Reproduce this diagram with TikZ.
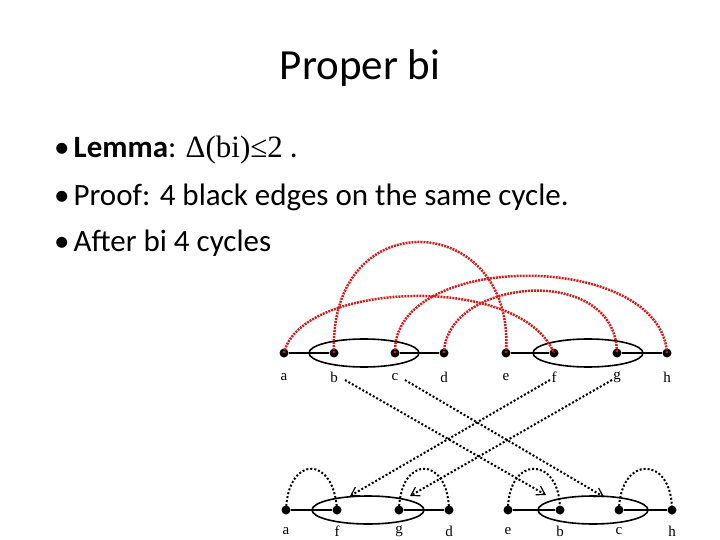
\documentclass[tikz,border=0pt]{standalone}
\usepackage{fontspec}
\setmainfont{Carlito}
\newfontfamily\serifm{Liberation Serif}
\usetikzlibrary{arrows.meta}
\begin{document}
\begin{tikzpicture}[x=1pt,y=-1pt,
 vtx/.style={circle,fill=black,inner sep=0pt,minimum size=9pt},
 lab/.style={font=\serifm\fontsize{15}{15}\selectfont},
 red/.style={draw={rgb,255:red,210;green,30;blue,30},line width=2.5pt,dash pattern=on 2pt off 1pt},
 dot/.style={draw=black,line width=2pt,dash pattern=on 2pt off 2pt},
 arr/.style={dot,-{Straight Barb[length=8pt,width=10pt,line width=1.2pt]}},
 ell/.style={draw=black,line width=1.6pt},
 bul/.style={anchor=west,inner sep=0pt,font=\fontsize{31}{36}\selectfont}]
\useasboundingbox (0,0) rectangle (720,540);
\node (title) at (360,68) {\fontsize{43}{48}\selectfont Proper bi};
\node[bul] (l1) at (54,150) {•\hspace{4pt}\textbf{Lemma}: {\serifm Δ(bi)≤2} .};
\node[bul] (l2) at (54,197) {•\hspace{4pt}Proof: 4 black edges on the same cycle.};
\node[bul] (l3) at (54,243) {•\hspace{4pt}After bi 4 cycles};
% top row
\draw[ell] (364,353) ellipse (55 and 14);
\draw[ell] (588,353) ellipse (55 and 14);
\foreach \n/\x in {a/284,b/334,c/395,d/444,e/506,f/554,g/617,h/667}{
 \node[vtx] (t\n) at (\x,353) {};
 \node[lab] (tl\n) at (\x,377) {\n};}
\draw[line width=1.6pt] (ta)--(tb) (tc)--(td) (te)--(tf) (tg)--(th);
% bottom row
\draw[ell] (368,510) ellipse (56 and 14);
\draw[ell] (593,510) ellipse (55 and 14);
\foreach \n/\l/\x in {a/a/286,f/f/337,g/g/399,d/d/449,e/e/508,b/b/560,c/c/619,h/h/672}{
 \node[vtx] (b\n) at (\x,510) {};
 \node[lab] (bl\n) at (\x,531) {\l};}
\draw[line width=1.6pt] (ba)--(bf) (bg)--(bd) (be)--(bb) (bc)--(bh);
% red arcs
\draw[red] (ta.center) .. controls (300,282) and (520,272) .. (tf.center);
\draw[red] (tb.center) .. controls (328,200) and (516,210) .. (te.center);
\draw[red] (tc.center) .. controls (392,250) and (660,250) .. (th.center);
\draw[red] (td.center) .. controls (446,278) and (616,262) .. (tg.center);
% dotted crossing arrows
\coordinate (s1) at (345,380); \coordinate (e1) at (546,495);
\coordinate (s2) at (405,380); \coordinate (e2) at (604,497);
\coordinate (s3) at (550,380); \coordinate (e3) at (350,496);
\coordinate (s4) at (612,380); \coordinate (e4) at (410,496);
\draw[arr] (s1)--(e1);
\draw[arr] (s2)--(e2);
\draw[arr] (s3)--(e3);
\draw[arr] (s4)--(e4);
% bottom loops
\draw[dot] (ba.center) .. controls (288,455) and (334,455) .. (bf.center);
\draw[dot] (bg.center) .. controls (400,455) and (448,455) .. (bd.center);
\draw[dot] (be.center) .. controls (508,455) and (560,455) .. (bb.center);
\draw[dot] (bc.center) .. controls (620,455) and (672,455) .. (bh.center);
\end{tikzpicture}
\end{document}
